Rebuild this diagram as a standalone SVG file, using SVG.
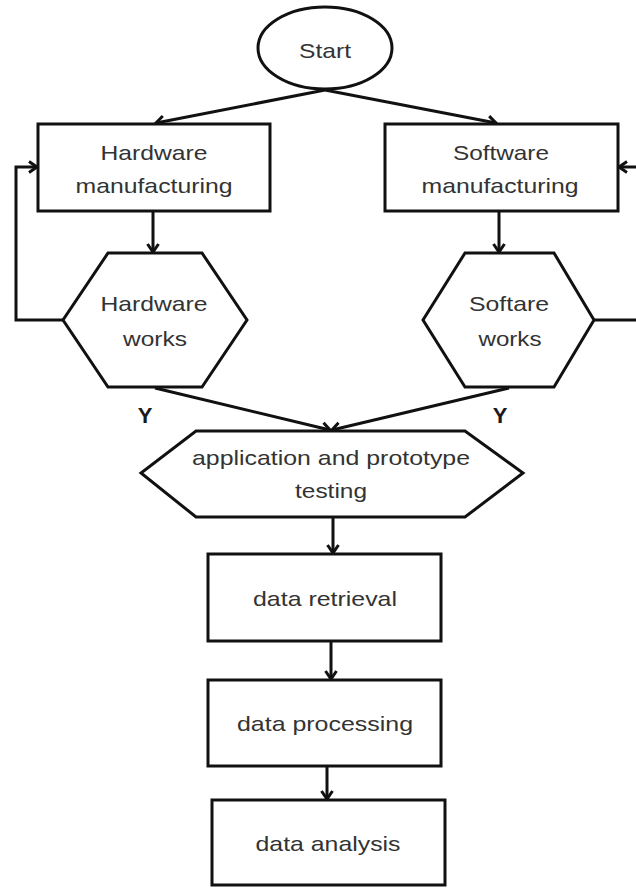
<svg xmlns="http://www.w3.org/2000/svg" width="636" height="888" viewBox="0 0 636 888">
  <defs>
    <marker id="arrow" markerUnits="userSpaceOnUse" markerWidth="14" markerHeight="14" refX="11" refY="7" orient="auto">
      <path d="M3,1.5 L11,7 L3,12.5" fill="none" stroke="#111" stroke-width="3" stroke-linejoin="miter"/>
    </marker>
    <style>
      .shape { fill: #fff; stroke: #111; stroke-width: 3; }
      .conn { fill: none; stroke: #111; stroke-width: 3; }
      .lbl { font-family: "Liberation Sans", Arial, sans-serif; font-size: 21px; fill: #333; text-anchor: middle; dominant-baseline: central; }
      .yes { font-family: "Liberation Sans", Arial, sans-serif; font-size: 22px; font-weight: bold; fill: #1a1a1a; text-anchor: middle; dominant-baseline: central; }
    </style>
  </defs>
  <rect width="636" height="888" fill="#fff"/>

  <!-- connectors -->
  <g id="connectors">
    <line class="conn" x1="325" y1="90" x2="156" y2="123" marker-end="url(#arrow)"/>
    <line class="conn" x1="325" y1="90" x2="496" y2="123" marker-end="url(#arrow)"/>
    <line class="conn" x1="153" y1="211" x2="153" y2="252" marker-end="url(#arrow)"/>
    <line class="conn" x1="499" y1="211" x2="499" y2="252" marker-end="url(#arrow)"/>
    <polyline class="conn" points="63,320 16,320 16,167 37,167" marker-end="url(#arrow)"/>
    <line class="conn" x1="594" y1="320" x2="640" y2="320"/>
    <line class="conn" x1="640" y1="167" x2="619" y2="167" marker-end="url(#arrow)"/>
    <line class="conn" x1="155" y1="388" x2="330" y2="430" marker-end="url(#arrow)"/>
    <line class="conn" x1="509" y1="388" x2="332" y2="430" marker-end="url(#arrow)"/>
    <line class="conn" x1="333" y1="517" x2="333" y2="553" marker-end="url(#arrow)"/>
    <line class="conn" x1="331" y1="641" x2="331" y2="679" marker-end="url(#arrow)"/>
    <line class="conn" x1="327" y1="761" x2="327" y2="799" marker-end="url(#arrow)"/>
    <text class="yes" x="145" y="415">Y</text>
    <text class="yes" x="500" y="415">Y</text>
  </g>

  <g id="start">
    <ellipse class="shape" cx="325" cy="48" rx="67" ry="41"/>
    <text class="lbl" x="325" y="50" textLength="52" lengthAdjust="spacingAndGlyphs">Start</text>
  </g>

  <g id="hardware-manufacturing">
    <rect class="shape" x="38" y="124" width="232" height="87"/>
    <text class="lbl" x="154" y="152" textLength="107" lengthAdjust="spacingAndGlyphs">Hardware</text>
    <text class="lbl" x="154" y="185" textLength="157" lengthAdjust="spacingAndGlyphs">manufacturing</text>
  </g>

  <g id="software-manufacturing">
    <rect class="shape" x="385" y="124" width="233" height="87"/>
    <text class="lbl" x="501" y="152" textLength="96" lengthAdjust="spacingAndGlyphs">Software</text>
    <text class="lbl" x="500" y="185" textLength="157" lengthAdjust="spacingAndGlyphs">manufacturing</text>
  </g>

  <g id="hardware-works">
    <polygon class="shape" points="108,253 202,253 247,320 202,387 108,387 63,320"/>
    <text class="lbl" x="154" y="303" textLength="107" lengthAdjust="spacingAndGlyphs">Hardware</text>
    <text class="lbl" x="155" y="338" textLength="64" lengthAdjust="spacingAndGlyphs">works</text>
  </g>

  <g id="software-works">
    <polygon class="shape" points="465,253 554,253 594,320 554,387 465,387 423,320"/>
    <text class="lbl" x="509" y="303" textLength="80" lengthAdjust="spacingAndGlyphs">Softare</text>
    <text class="lbl" x="510" y="338" textLength="63" lengthAdjust="spacingAndGlyphs">works</text>
  </g>

  <g id="testing">
    <polygon class="shape" points="196,431 465,431 523,473 465,517 196,517 141,473"/>
    <text class="lbl" x="331" y="457" textLength="278" lengthAdjust="spacingAndGlyphs">application and prototype</text>
    <text class="lbl" x="331" y="490" textLength="72" lengthAdjust="spacingAndGlyphs">testing</text>
  </g>

  <g id="data-retrieval">
    <rect class="shape" x="208" y="554" width="233" height="87"/>
    <text class="lbl" x="325" y="598" textLength="144" lengthAdjust="spacingAndGlyphs">data retrieval</text>
  </g>

  <g id="data-processing">
    <rect class="shape" x="208" y="680" width="233" height="86"/>
    <text class="lbl" x="325" y="723" textLength="176" lengthAdjust="spacingAndGlyphs">data processing</text>
  </g>

  <g id="data-analysis">
    <rect class="shape" x="212" y="800" width="233" height="85"/>
    <text class="lbl" x="328" y="843" textLength="145" lengthAdjust="spacingAndGlyphs">data analysis</text>
  </g>
</svg>
